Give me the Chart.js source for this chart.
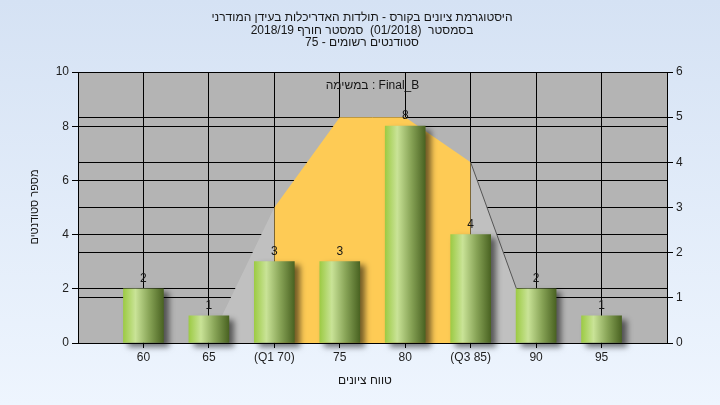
<!DOCTYPE html>
<html>
<head>
<meta charset="utf-8">
<script src="https://cdn.jsdelivr.net/npm/chart.js@4"></script>
<style>
  html, body { margin: 0; padding: 0; }
  body { width: 720px; height: 405px; overflow: hidden; background: linear-gradient(#d5e2f4, #eef5fe); }
</style>
</head>
<body>
<canvas id="hist" width="720" height="405"></canvas>
<script>
const titleLines = [
    'היסטוגרמת ציונים בקורס - תולדות האדריכלות בעידן המודרני',
    'בסמסטר  (01/2018)  סמסטר חורף 2018/19',
    'סטודנטים רשומים - 75'
];
const innerLabel = 'במשימה : Final_B';
const xTitle = 'טווח ציונים';
const yTitle = 'מספר סטודנטים';

const grades = [60, 65, 70, 75, 80, 85, 90, 95];
const gradeLabels = ['60', '65', '(Q1 70)', '75', '80', '(Q3 85)', '90', '95'];
const students = [2, 1, 3, 3, 8, 4, 2, 1];
const curve = [0, 0, 3, 5, 5, 4, 0, 0];
const q1 = 70, q3 = 85;
const leftTicks = [0, 2, 4, 6, 8, 10];
const rightTicks = [0, 1, 2, 3, 4, 5, 6];

const FONT = '"Liberation Sans", Arial, sans-serif';

function barFill(c) {
    const chart = c.chart;
    const xs = chart.scales.x;
    if (c.type !== 'data' || !xs || !chart.chartArea) return '#8db04c';
    const px = xs.getPixelForValue(c.raw.x);
    const g = chart.ctx.createLinearGradient(px - 20, 0, px + 20, 0);
    g.addColorStop(0, '#9dcb45');
    g.addColorStop(0.3, '#c9e397');
    g.addColorStop(0.65, '#87a356');
    g.addColorStop(1, '#4a6322');
    return g;
}

const decor = {
    id: 'decor',
    beforeDraw(chart) {
        const { ctx, chartArea: a } = chart;
        ctx.save();
        ctx.fillStyle = '#b4b4b4';
        ctx.fillRect(a.left, a.top, a.right - a.left, a.bottom - a.top);
        ctx.restore();
    },
    beforeDatasetDraw(chart, args) {
        if (args.index !== 0) return;
        const ctx = chart.ctx;
        ctx.save();
        ctx.shadowColor = 'rgba(0,0,0,0.55)';
        ctx.shadowBlur = 6;
        ctx.shadowOffsetX = 5;
        ctx.shadowOffsetY = 4;
    },
    afterDatasetDraw(chart, args) {
        if (args.index !== 0) return;
        chart.ctx.restore();
    },
    afterDatasetsDraw(chart) {
        const { ctx, chartArea: a, scales } = chart;
        ctx.save();
        ctx.fillStyle = '#161616';
        ctx.font = '12px ' + FONT;
        ctx.textAlign = 'center';
        ctx.textBaseline = 'alphabetic';
        grades.forEach((g, i) => {
            ctx.fillText(String(students[i]), scales.x.getPixelForValue(g), scales.y.getPixelForValue(students[i]) - 7);
        });
        ctx.textBaseline = 'middle';
        ctx.fillText(innerLabel, (a.left + a.right) / 2, a.top + 14);
        ctx.fillText(xTitle, 365, 381);
        titleLines.forEach((t, i) => ctx.fillText(t, 362, 18 + i * 12.5));
        ctx.font = '11px ' + FONT;
        ctx.translate(35, 207);
        ctx.rotate(-Math.PI / 2);
        ctx.fillText(yTitle, 0, 0);
        ctx.restore();
    }
};

new Chart(document.getElementById('hist'), {
    type: 'bar',
    data: {
        datasets: [
            {
                type: 'bar',
                data: grades.map((g, i) => ({ x: g, y: students[i] })),
                yAxisID: 'y',
                barThickness: 40,
                backgroundColor: barFill,
                borderWidth: 0,
                clip: false
            },
            {
                type: 'line',
                data: grades.map((g, i) => ({ x: g, y: curve[i] })),
                yAxisID: 'y1',
                fill: 'origin',
                pointRadius: 0,
                borderWidth: 1,
                tension: 0,
                backgroundColor: '#c0c0c0',
                borderColor: 'rgba(0,0,0,0)',
                segment: {
                    backgroundColor: s => (s.p0.parsed.x >= q1 && s.p1.parsed.x <= q3) ? '#fecb55' : '#c0c0c0',
                    borderColor: s => (s.p0.parsed.x === q3) ? '#555555' : 'rgba(0,0,0,0)'
                }
            }
        ]
    },
    options: {
        responsive: false,
        animation: false,
        layout: { padding: { top: 72, left: 0, right: 0, bottom: 0 } },
        plugins: { legend: { display: false }, tooltip: { enabled: false }, title: { display: false } },
        scales: {
            x: {
                type: 'linear', min: 55, max: 100, offset: false,
                afterBuildTicks: s => { s.ticks = grades.map(v => ({ value: v })); },
                afterFit: s => { s.height = 62; },
                grid: { color: '#000', lineWidth: 1, tickLength: 5, offset: false },
                border: { color: '#000', width: 1 },
                ticks: {
                    callback: (v, i) => gradeLabels[i],
                    color: '#1e1e1e', font: { family: FONT, size: 12 },
                    padding: 2, maxRotation: 0, autoSkip: false
                }
            },
            y: {
                position: 'left', min: 0, max: 10,
                afterBuildTicks: s => { s.ticks = leftTicks.map(v => ({ value: v })); },
                afterFit: s => { s.width = 78; },
                grid: { color: '#000', lineWidth: 1, tickLength: 6 },
                border: { color: '#000', width: 1 },
                ticks: { color: '#1e1e1e', font: { family: FONT, size: 12 }, padding: 3 }
            },
            y1: {
                position: 'right', min: 0, max: 6,
                afterBuildTicks: s => { s.ticks = rightTicks.map(v => ({ value: v })); },
                afterFit: s => { s.width = 53; },
                grid: { color: '#000', lineWidth: 1, tickLength: 6, drawOnChartArea: true },
                border: { color: '#000', width: 1 },
                ticks: { color: '#1e1e1e', font: { family: FONT, size: 12 }, padding: 3 }
            }
        }
    },
    plugins: [decor]
});
</script>
</body>
</html>
